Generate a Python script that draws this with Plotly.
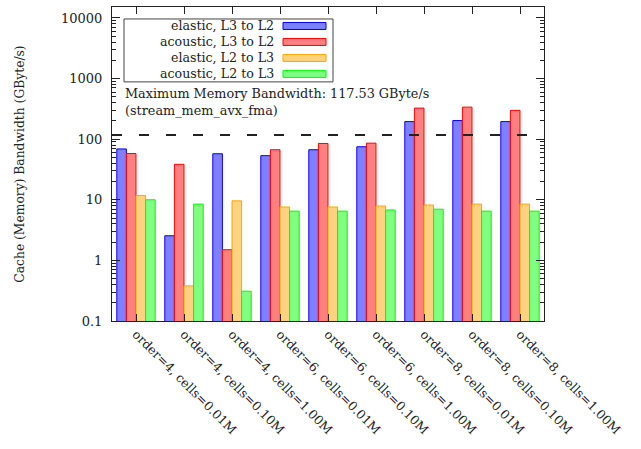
import plotly.graph_objects as go

categories = [
    "order=4, cells=0.01M", "order=4, cells=0.10M", "order=4, cells=1.00M",
    "order=6, cells=0.01M", "order=6, cells=0.10M", "order=6, cells=1.00M",
    "order=8, cells=0.01M", "order=8, cells=0.10M", "order=8, cells=1.00M",
]
series_names = ["elastic, L3 to L2", "acoustic, L3 to L2", "elastic, L2 to L3", "acoustic, L2 to L3"]
elastic_l3_l2 = [69, 2.55, 57.5, 53.5, 67, 75, 195, 203, 195]
acoustic_l3_l2 = [58, 38.5, 1.5, 67, 85, 86, 326, 338, 299]
elastic_l2_l3 = [11.8, 0.38, 9.6, 7.6, 7.6, 7.9, 8.2, 8.5, 8.5]
acoustic_l2_l3 = [10.0, 8.5, 0.31, 6.5, 6.5, 6.8, 7.0, 6.5, 6.5]
max_bw = 117.53
ytick_vals = [0.1, 1, 10, 100, 1000, 10000]
ytick_text = ["0.1", "1", "10", "100", "1000", "10000"]

fills = ["#8080ff", "#ff8080", "#ffd280", "#80ff80"]
edges = ["#0000ff", "#ff0000", "#ffa500", "#00ff00"]
FONT = "DejaVu Serif"
TXT = "#222222"

W, H = 641, 449
L, R, T, B = 112, 544, 7, 321.5

def px(x):
    return (x - L) / (R - L)

def py(y):
    return (B - y) / (B - T)

fig = go.Figure()
for name, vals, fc, ec in zip(series_names,
                              [elastic_l3_l2, acoustic_l3_l2, elastic_l2_l3, acoustic_l2_l3],
                              fills, edges):
    fig.add_trace(go.Bar(x=categories, y=vals, name=name, showlegend=False,
                         marker=dict(color=fc, line=dict(color=ec, width=1))))

shapes = [dict(type="line", xref="paper", yref="y", x0=0, x1=1, y0=max_bw, y1=max_bw,
               line=dict(color=TXT, width=2, dash="10px,17px"))]
annotations = []
# custom legend (text on left, swatch on right)
shapes.append(dict(type="rect", xref="paper", yref="paper", x0=px(124), x1=px(333),
                   y0=py(82), y1=py(19), line=dict(color="#444444", width=1),
                   fillcolor="white", layer="above"))
for i, (name, fc, ec) in enumerate(zip(series_names, fills, edges)):
    yc = 26 + 16 * i
    shapes.append(dict(type="rect", xref="paper", yref="paper", x0=px(283), x1=px(326),
                       y0=py(yc + 3.5), y1=py(yc - 3.5), fillcolor=fc,
                       line=dict(color=ec, width=1), layer="above"))
    annotations.append(dict(xref="paper", yref="paper", x=px(276), y=py(yc), text=name,
                            showarrow=False, xanchor="right", yanchor="middle",
                            font=dict(family=FONT, size=12.6, color=TXT)))
annotations.append(dict(xref="paper", yref="paper", x=px(123), y=py(84),
                        text="Maximum Memory Bandwidth: 117.53 GByte/s<br>(stream_mem_avx_fma)",
                        showarrow=False, xanchor="left", yanchor="top", align="left",
                        font=dict(family=FONT, size=12.8, color=TXT)))

fig.update_layout(
    width=W, height=H,
    margin=dict(l=L, r=W - R, t=T, b=H - B, pad=0),
    paper_bgcolor="white", plot_bgcolor="white",
    barmode="group", bargap=0.2, bargroupgap=0,
    font=dict(family=FONT, size=13, color=TXT),
    shapes=shapes, annotations=annotations,
    xaxis=dict(type="category", range=[-0.5, 8.5], tickangle=45,
               ticks="inside", ticklen=7, tickcolor=TXT, mirror="ticks",
               showline=True, linecolor=TXT, linewidth=1, showgrid=False,
               tickfont=dict(family=FONT, size=12.5, color=TXT)),
    yaxis=dict(type="log", range=[-1, 4.181], tickvals=ytick_vals, ticktext=ytick_text,
               ticks="inside", ticklen=8, tickcolor=TXT, mirror="allticks",
               showline=True, linecolor=TXT, linewidth=1, showgrid=False, zeroline=False,
               minor=dict(ticks="inside", ticklen=4, tickcolor=TXT, dtick="D1", showgrid=False),
               ticklabelstandoff=6,
               title=dict(text="Cache (Memory) Bandwidth (GByte/s)", standoff=33,
                          font=dict(family=FONT, size=12.3, color=TXT)),
               tickfont=dict(family=FONT, size=13, color=TXT)),
)

fig.write_html("out.html", config={"displayModeBar": False},
               post_script="document.body.style.margin='0px';")
